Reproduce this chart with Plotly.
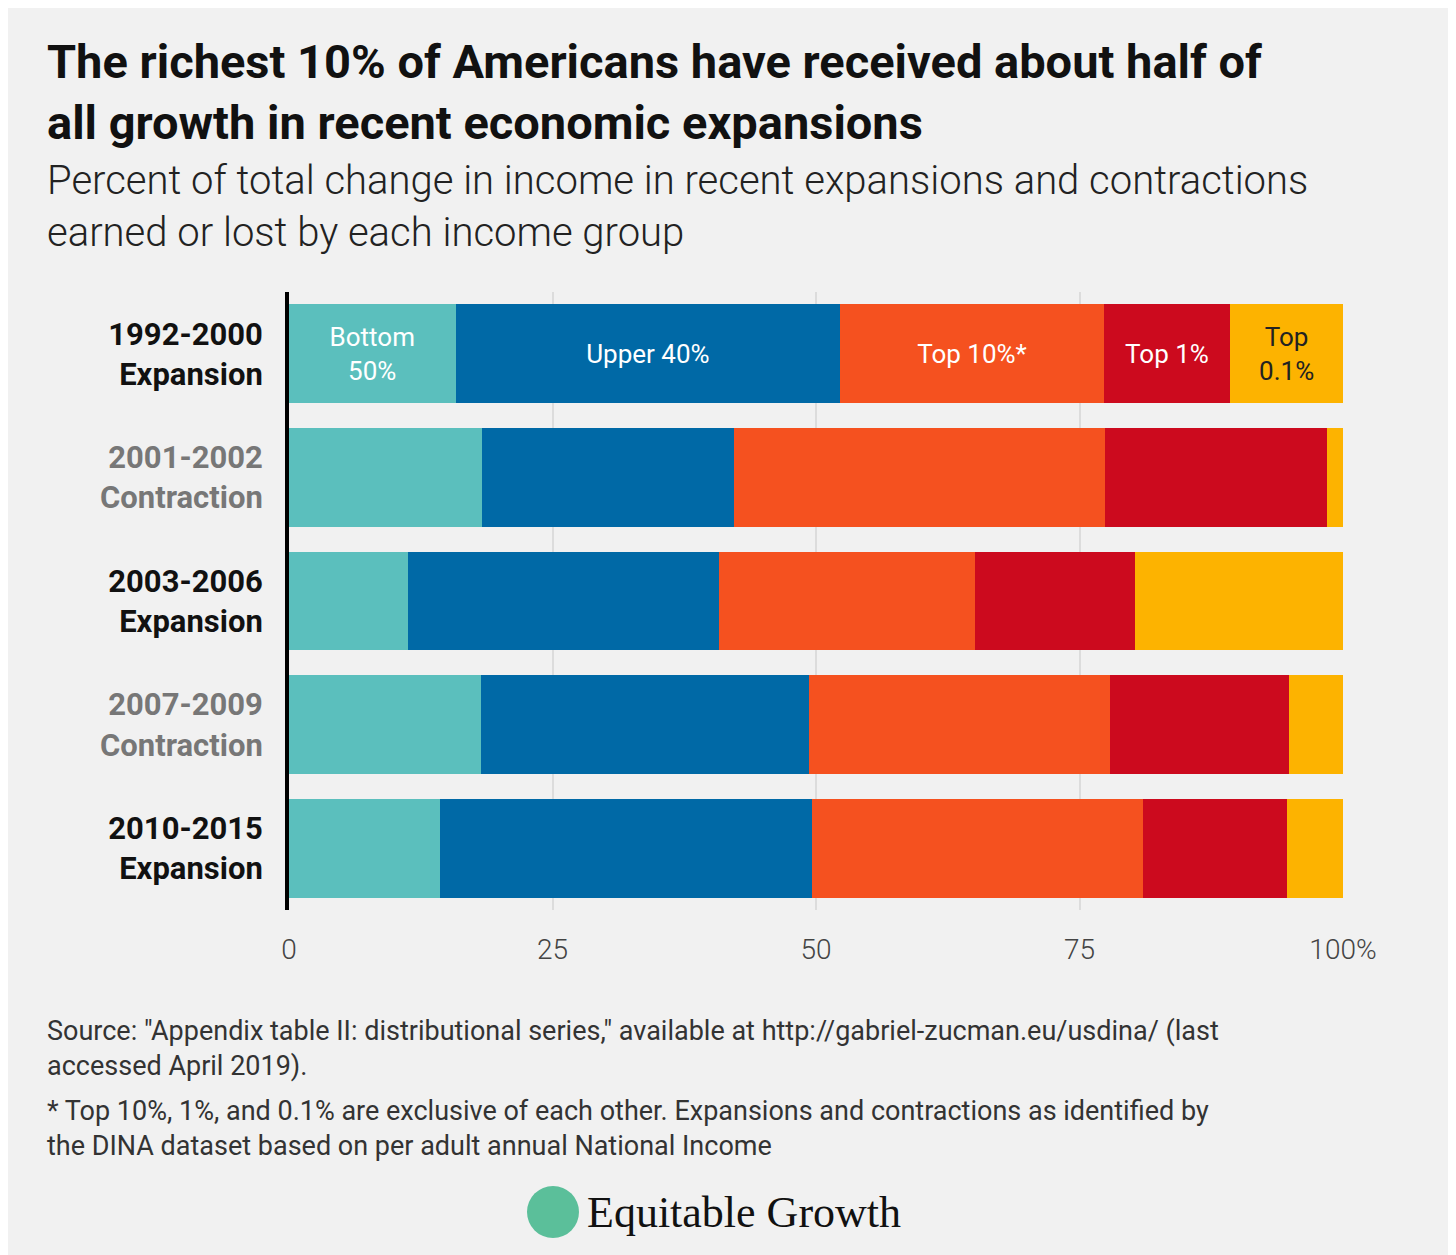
import plotly.graph_objects as go

periods = ["1992-2000<br>Expansion", "2001-2002<br>Contraction", "2003-2006<br>Expansion",
           "2007-2009<br>Contraction", "2010-2015<br>Expansion"]
label_colors = ["#111111", "#777777", "#111111", "#777777", "#111111"]
groups = ["Bottom<br>50%", "Upper 40%", "Top 10%*", "Top 1%", "Top<br>0.1%"]
colors = ["#5bbfbd", "#0069a6", "#f5511f", "#cc0a1e", "#fdb300"]
values = [
    [15.8, 18.3, 11.3, 18.2, 14.3],
    [36.5, 23.9, 29.5, 31.1, 35.3],
    [25.0, 35.2, 24.3, 28.6, 31.4],
    [12.0, 21.1, 15.2, 17.0, 13.7],
    [10.7, 1.5, 19.7, 5.1, 5.3],
]
tick_vals = [0, 25, 50, 75, 100]
tick_text = ["0", "25", "50", "75", "100%"]

ylabels = [f"<span style='color:{c}'>{p}</span>" for p, c in zip(periods, label_colors)]

OFF = 8
L, T, PW, PH = 289 - OFF, 292 - OFF, 1054, 618

fig = go.Figure()
for g, col, vals in zip(groups, colors, values):
    txt = [g] + [""] * (len(vals) - 1)
    fig.add_trace(go.Bar(
        y=ylabels, x=vals, orientation="h", marker=dict(color=col, line=dict(width=0)),
        text=txt, textposition="inside", insidetextanchor="middle",
        textfont=dict(family="Roboto", size=26, color="#ffffff" if col != "#fdb300" else "#222222"),
        hoverinfo="skip", showlegend=False, textangle=0))

fig.update_layout(
    barmode="stack", bargap=0.2, width=1456, height=1255,
    paper_bgcolor="#f1f1f1", plot_bgcolor="#f1f1f1",
    margin=dict(l=L, r=1456 - L - PW, t=T, b=1255 - T - PH),
    uniformtext=dict(minsize=26, mode="show"),
    xaxis=dict(range=[0, 100], tickvals=tick_vals, ticktext=tick_text, showgrid=True,
               gridcolor="#dcdcdc", gridwidth=2, zeroline=False,
               tickfont=dict(family="Roboto", size=28, color="#444444", weight=300), ticks="", ticklabelstandoff=20),
    yaxis=dict(autorange="reversed", showline=True, linecolor="#000000", linewidth=4,
               tickfont=dict(family="Roboto", size=31, color="#111111", weight="bold"), ticks="",
               ticklabelstandoff=16),
)

ann = [
    dict(x=45, y=92, text="<b>The richest 10% of Americans have received about half of<br>all growth in recent economic expansions</b>",
         font=dict(family="Roboto", size=47, color="#111111"), lh=None),
    dict(x=45, y=206, text="Percent of total change in income in recent expansions and contractions<br>earned or lost by each income group",
         font=dict(family="Roboto", size=40, color="#222222", weight=300)),
    dict(x=45, y=1048, text="Source: \"Appendix table II: distributional series,\" available at http://gabriel-zucman.eu/usdina/ (last<br>accessed April 2019).",
         font=dict(family="Roboto", size=27, color="#333333")),
    dict(x=45, y=1128, text="* Top 10%, 1%, and 0.1% are exclusive of each other. Expansions and contractions as identified by<br>the DINA dataset based on per adult annual National Income",
         font=dict(family="Roboto", size=27, color="#333333")),
    dict(x=585, y=1212, text="Equitable Growth",
         font=dict(family="Liberation Serif", size=44, color="#111111")),
]
for a in ann:
    fig.add_annotation(xref="paper", yref="paper", x=(a["x"] - OFF - L) / PW,
                       y=1 - (a["y"] - OFF - T) / PH, text=a["text"], showarrow=False,
                       xanchor="left", yanchor="middle", align="left", font=a["font"])

cx, cy = 553 - OFF, 1212 - OFF
fig.add_shape(type="circle", xref="paper", yref="paper",
              x0=(cx - 26 - L) / PW, x1=(cx + 26 - L) / PW,
              y0=1 - (cy + 26 - T) / PH, y1=1 - (cy - 26 - T) / PH,
              fillcolor="#5bbf9a", line=dict(width=0))

fig.write_html("out.html")
